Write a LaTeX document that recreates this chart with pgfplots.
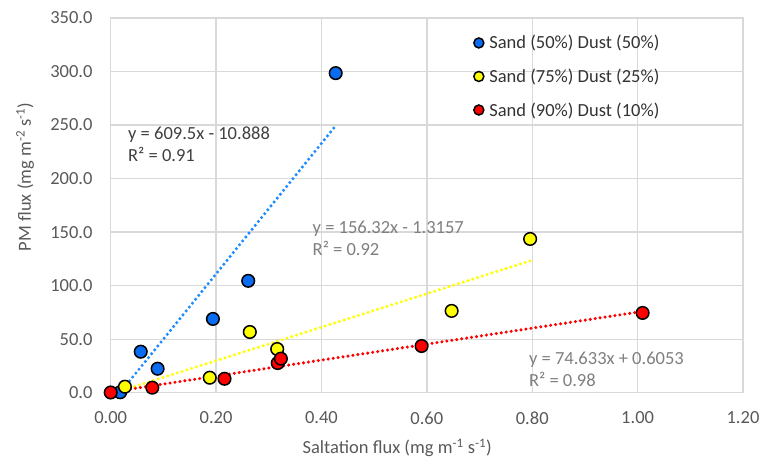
\documentclass[border=0pt]{standalone}
\usepackage{fontspec}
\setmainfont{Carlito}
\usepackage{pgfplots}
\pgfplotsset{compat=1.18}

\definecolor{gridgray}{HTML}{D9D9D9}
\definecolor{txtgray}{HTML}{595959}
\definecolor{eqgray}{HTML}{7F7F7F}
\definecolor{mblue}{HTML}{0A6CF0}
\definecolor{lblue}{HTML}{1E8CFF}
\definecolor{myellow}{HTML}{FFFF00}
\definecolor{mred}{HTML}{FF0000}
\newcommand\cf{\fontsize{18.5bp}{22bp}\selectfont}

\begin{document}
\begin{tikzpicture}
\begin{axis}[
    scale only axis,
    width=632.3bp, height=374.7bp,
    xmin=0, xmax=1.2, ymin=0, ymax=350,
    xtick={0,0.2,0.4,0.6,0.8,1.0,1.2},
    ytick={0,50,100,150,200,250,300,350},
    scaled ticks=false,
    grid=major,
    major grid style={gridgray, line width=1.3bp},
    axis line style={gridgray, line width=1.3bp},
    major tick length=0pt,
    clip=false,
    /pgf/number format/assume math mode=true,
    tick label style={font=\cf, text=txtgray, inner sep=0pt},
    x tick label style={yshift=-19bp,/pgf/number format/.cd,fixed,fixed zerofill,precision=2,/tikz/.cd},
    y tick label style={xshift=-18bp,/pgf/number format/.cd,fixed,fixed zerofill,precision=1,/tikz/.cd},
    xlabel={Saltation flux (mg m\textsuperscript{-1} s\textsuperscript{-1})},
    ylabel={PM flux (mg m\textsuperscript{-2} s\textsuperscript{-1})},
    every axis x label/.style={at={(axis description cs:0.453,-0.148)}, anchor=center,
        font=\cf, text=txtgray},
    every axis y label/.style={at={(axis description cs:-0.1355,0.576)}, anchor=center,
        rotate=90, font=\cf, text=txtgray},
    legend style={draw=none, fill=none, font=\cf, text=black!80,
        at={(axis description cs:0.574,0.958)}, anchor=north west,
        row sep=15.5bp, inner sep=0pt, nodes={inner sep=1.5bp}},
    legend cell align=left,
    legend image code/.code={\draw[#1, mark size=5bp] plot coordinates {(0bp,0bp)};
        \path[draw=none, fill=none] (0bp,0bp) rectangle (9bp,0.1bp);},
]
\addplot[only marks, mark=*, mark size=6.3bp,
    mark options={fill=mblue, draw=black, line width=1.5bp}]
    coordinates {(0.018,0.4) (0.057,38.3) (0.089,22.4) (0.194,68.9) (0.261,104.5) (0.427,298.5)};
\addplot[only marks, mark=*, mark size=6.3bp,
    mark options={fill=myellow, draw=black, line width=1.5bp}]
    coordinates {(0.027,5.6) (0.188,14.0) (0.264,56.7) (0.316,40.8) (0.647,76.4) (0.796,143.6)};
\addplot[only marks, mark=*, mark size=6.3bp,
    mark options={fill=mred, draw=black, line width=1.5bp}]
    coordinates {(0.0,0.2) (0.079,4.7) (0.216,13.0) (0.317,27.7) (0.323,31.8) (0.590,43.6) (1.0095,74.5)};
\legend{Sand (50\%) Dust (50\%), Sand (75\%) Dust (25\%), Sand (90\%) Dust (10\%)}

% linear trendlines (end points)
\addplot[forget plot, lblue, line width=3.4bp, line cap=round, dash pattern=on 0bp off 5bp]
    coordinates {(0.018,0.08) (0.427,249.4)};
\addplot[forget plot, myellow, line width=3.4bp, line cap=round, dash pattern=on 0bp off 5bp]
    coordinates {(0.027,2.9) (0.796,123.1)};
\addplot[forget plot, mred, line width=3.4bp, line cap=round, dash pattern=on 0bp off 5bp]
    coordinates {(0.0,0.61) (1.0095,75.95)};

\node[font=\cf, text=black!75, align=left, anchor=west, inner sep=0pt]
    at (axis cs:0.0328,232.4) {y = 609.5x - 10.888\\R² = 0.91};
\node[font=\cf, text=eqgray, align=left, anchor=west, inner sep=0pt]
    at (axis cs:0.383,144.1) {y = 156.32x - 1.3157\\R² = 0.92};
\node[font=\cf, text=eqgray, align=left, anchor=west, inner sep=0pt]
    at (axis cs:0.7937,21.7) {y = 74.633x + 0.6053\\R² = 0.98};
\end{axis}
\useasboundingbox (-110.7bp,-66.3bp) rectangle (650.3bp,392.7bp);
\end{tikzpicture}
\end{document}
